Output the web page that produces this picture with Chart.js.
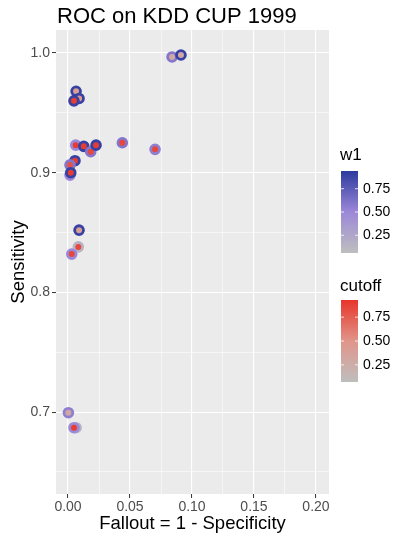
<!DOCTYPE html>
<html>
<head>
<meta charset="utf-8">
<script src="https://cdn.jsdelivr.net/npm/chart.js@4"></script>
<style>
  html, body { margin: 0; padding: 0; background: #fff; }
  #wrap { width: 401px; height: 537px; }
</style>
</head>
<body>
<div id="wrap"><canvas id="rocChart" width="401" height="537"></canvas></div>
<script>
// data
const fallout     = [0.0839, 0.0911, 0.0065, 0.0089, 0.0048, 0.0062, 0.0127, 0.0183, 0.0226, 0.0438, 0.0702, 0.0056, 0.0016, 0.0016, 0.0022, 0.0089, 0.0083, 0.0030, 0.0003, 0.0065, 0.0048];
const sensitivity = [0.9967, 0.9983, 0.9680, 0.9620, 0.9600, 0.9230, 0.9220, 0.9175, 0.9230, 0.9250, 0.9195, 0.9100, 0.9065, 0.8980, 0.9000, 0.8520, 0.8380, 0.8320, 0.6995, 0.6870, 0.6870];
const w1          = [0.60, 0.90, 0.90, 0.90, 0.90, 0.50, 0.90, 0.60, 0.90, 0.60, 0.55, 0.90, 0.60, 0.50, 0.90, 0.90, 0.15, 0.50, 0.55, 0.15, 0.50];
const cutoff      = [0.30, 0.30, 0.40, 0.45, 0.90, 0.90, 0.90, 0.85, 0.90, 0.85, 0.85, 0.90, 0.80, 0.80, 0.90, 0.40, 0.85, 0.85, 0.30, 0.80, 0.90];

const xMajor = [0, 0.05, 0.10, 0.15, 0.20];
const xMinor = [0.025, 0.075, 0.125, 0.175];
const yMajor = [0.7, 0.8, 0.9, 1.0];
const yMinor = [0.65, 0.75, 0.85, 0.95];
const legendTicks = [0.25, 0.50, 0.75];

const w1Stops  = [[0.06, [190, 190, 190]], [0.5, [156, 136, 216]], [0.94, [44, 58, 158]]];
const cutStops = [[0.07, [190, 190, 190]], [0.5, [224, 149, 138]], [0.93, [232, 53, 42]]];

const FONT = '"Liberation Sans", Arial, sans-serif';

function ramp(stops, v) {
    if (v <= stops[0][0]) return 'rgb(' + stops[0][1].join(',') + ')';
    for (let i = 1; i < stops.length; i++) {
        if (v <= stops[i][0]) {
            const t = (v - stops[i-1][0]) / (stops[i][0] - stops[i-1][0]);
            const c = stops[i-1][1].map((a, k) => Math.round(a + (stops[i][1][k] - a) * t));
            return 'rgb(' + c.join(',') + ')';
        }
    }
    return 'rgb(' + stops[stops.length-1][1].join(',') + ')';
}

const isMajor = (list, v) => list.some(m => Math.abs(m - v) < 1e-6);

const panelBg = {
    id: 'panelBg',
    beforeDraw(chart) {
        const a = chart.chartArea, c = chart.ctx;
        c.save();
        c.fillStyle = '#EBEBEB';
        c.fillRect(a.left, a.top, a.right - a.left, a.bottom - a.top);
        c.restore();
    }
};

function drawBar(c, title, stops, lo, hi, titleY, top, bottom) {
    const left = 341, w = 17;
    c.fillStyle = '#000';
    c.font = '17px ' + FONT;
    c.textAlign = 'left';
    c.textBaseline = 'middle';
    c.fillText(title, 340, titleY);
    const g = c.createLinearGradient(0, bottom, 0, top);
    for (let i = 0; i <= 20; i++) {
        const v = lo + (hi - lo) * i / 20;
        g.addColorStop(i / 20, ramp(stops, v));
    }
    c.fillStyle = g;
    c.fillRect(left, top, w, bottom - top);
    c.font = '14px ' + FONT;
    legendTicks.forEach(t => {
        const y = bottom - (t - lo) / (hi - lo) * (bottom - top);
        c.strokeStyle = 'rgba(255,255,255,0.8)';
        c.lineWidth = 1;
        c.beginPath();
        c.moveTo(left, y); c.lineTo(left + 3, y);
        c.moveTo(left + w - 3, y); c.lineTo(left + w, y);
        c.stroke();
        c.fillStyle = '#000';
        c.fillText(t.toFixed(2), 363, y);
    });
}

const extras = {
    id: 'extras',
    afterDraw(chart) {
        const c = chart.ctx;
        c.save();
        c.fillStyle = '#000';
        c.font = '22px ' + FONT;
        c.textAlign = 'left';
        c.textBaseline = 'alphabetic';
        c.fillText('ROC on KDD CUP 1999', 57, 23);
        drawBar(c, 'w1', w1Stops, 0.06, 0.94, 155, 171, 253);
        drawBar(c, 'cutoff', cutStops, 0.07, 0.93, 286, 300, 382);
        c.restore();
    }
};

const points = fallout.map((x, i) => ({ x: x, y: sensitivity[i] }));

new Chart(document.getElementById('rocChart').getContext('2d'), {
    type: 'scatter',
    data: {
        datasets: [{
            data: points,
            pointRadius: 4.4,
            pointBorderWidth: 2.8,
            pointBackgroundColor: cutoff.map(v => ramp(cutStops, v)),
            pointBorderColor: w1.map(v => ramp(w1Stops, v))
        }]
    },
    options: {
        responsive: false,
        animation: false,
        layout: { padding: { top: 30, right: 72, left: 0, bottom: 0 } },
        plugins: { legend: { display: false }, tooltip: { enabled: false } },
        scales: {
            x: {
                type: 'linear',
                min: -0.0097,
                max: 0.2105,
                afterBuildTicks: s => { s.ticks = xMajor.concat(xMinor).sort((a, b) => a - b).map(v => ({ value: v })); },
                afterFit: s => { s.height = 43; },
                border: { display: false },
                grid: {
                    color: '#FFFFFF',
                    lineWidth: ctx => isMajor(xMajor, ctx.tick.value) ? 1.1 : 0.55,
                    tickColor: ctx => isMajor(xMajor, ctx.tick.value) ? '#333333' : 'rgba(0,0,0,0)',
                    tickLength: 4,
                    tickWidth: 1
                },
                ticks: {
                    autoSkip: false,
                    maxRotation: 0,
                    padding: 1,
                    color: '#4D4D4D',
                    font: { family: FONT, size: 14 },
                    callback: v => isMajor(xMajor, v) ? v.toFixed(2) : ''
                },
                title: {
                    display: true,
                    text: 'Fallout = 1 - Specificity',
                    color: '#000',
                    font: { family: FONT, size: 18.5 },
                    padding: { top: 0, bottom: 2 }
                }
            },
            y: {
                type: 'linear',
                min: 0.6316,
                max: 1.0192,
                afterBuildTicks: s => { s.ticks = yMajor.concat(yMinor).sort((a, b) => a - b).map(v => ({ value: v })); },
                afterFit: s => { s.width = 56; },
                border: { display: false },
                grid: {
                    color: '#FFFFFF',
                    lineWidth: ctx => isMajor(yMajor, ctx.tick.value) ? 1.1 : 0.55,
                    tickColor: ctx => isMajor(yMajor, ctx.tick.value) ? '#333333' : 'rgba(0,0,0,0)',
                    tickLength: 4,
                    tickWidth: 1
                },
                ticks: {
                    autoSkip: false,
                    padding: 2,
                    color: '#4D4D4D',
                    font: { family: FONT, size: 14 },
                    callback: v => isMajor(yMajor, v) ? v.toFixed(1) : ''
                },
                title: {
                    display: true,
                    text: 'Sensitivity',
                    color: '#000',
                    font: { family: FONT, size: 18.5 },
                    padding: { top: 8, bottom: 0 }
                }
            }
        }
    },
    plugins: [panelBg, extras]
});
</script>
</body>
</html>
